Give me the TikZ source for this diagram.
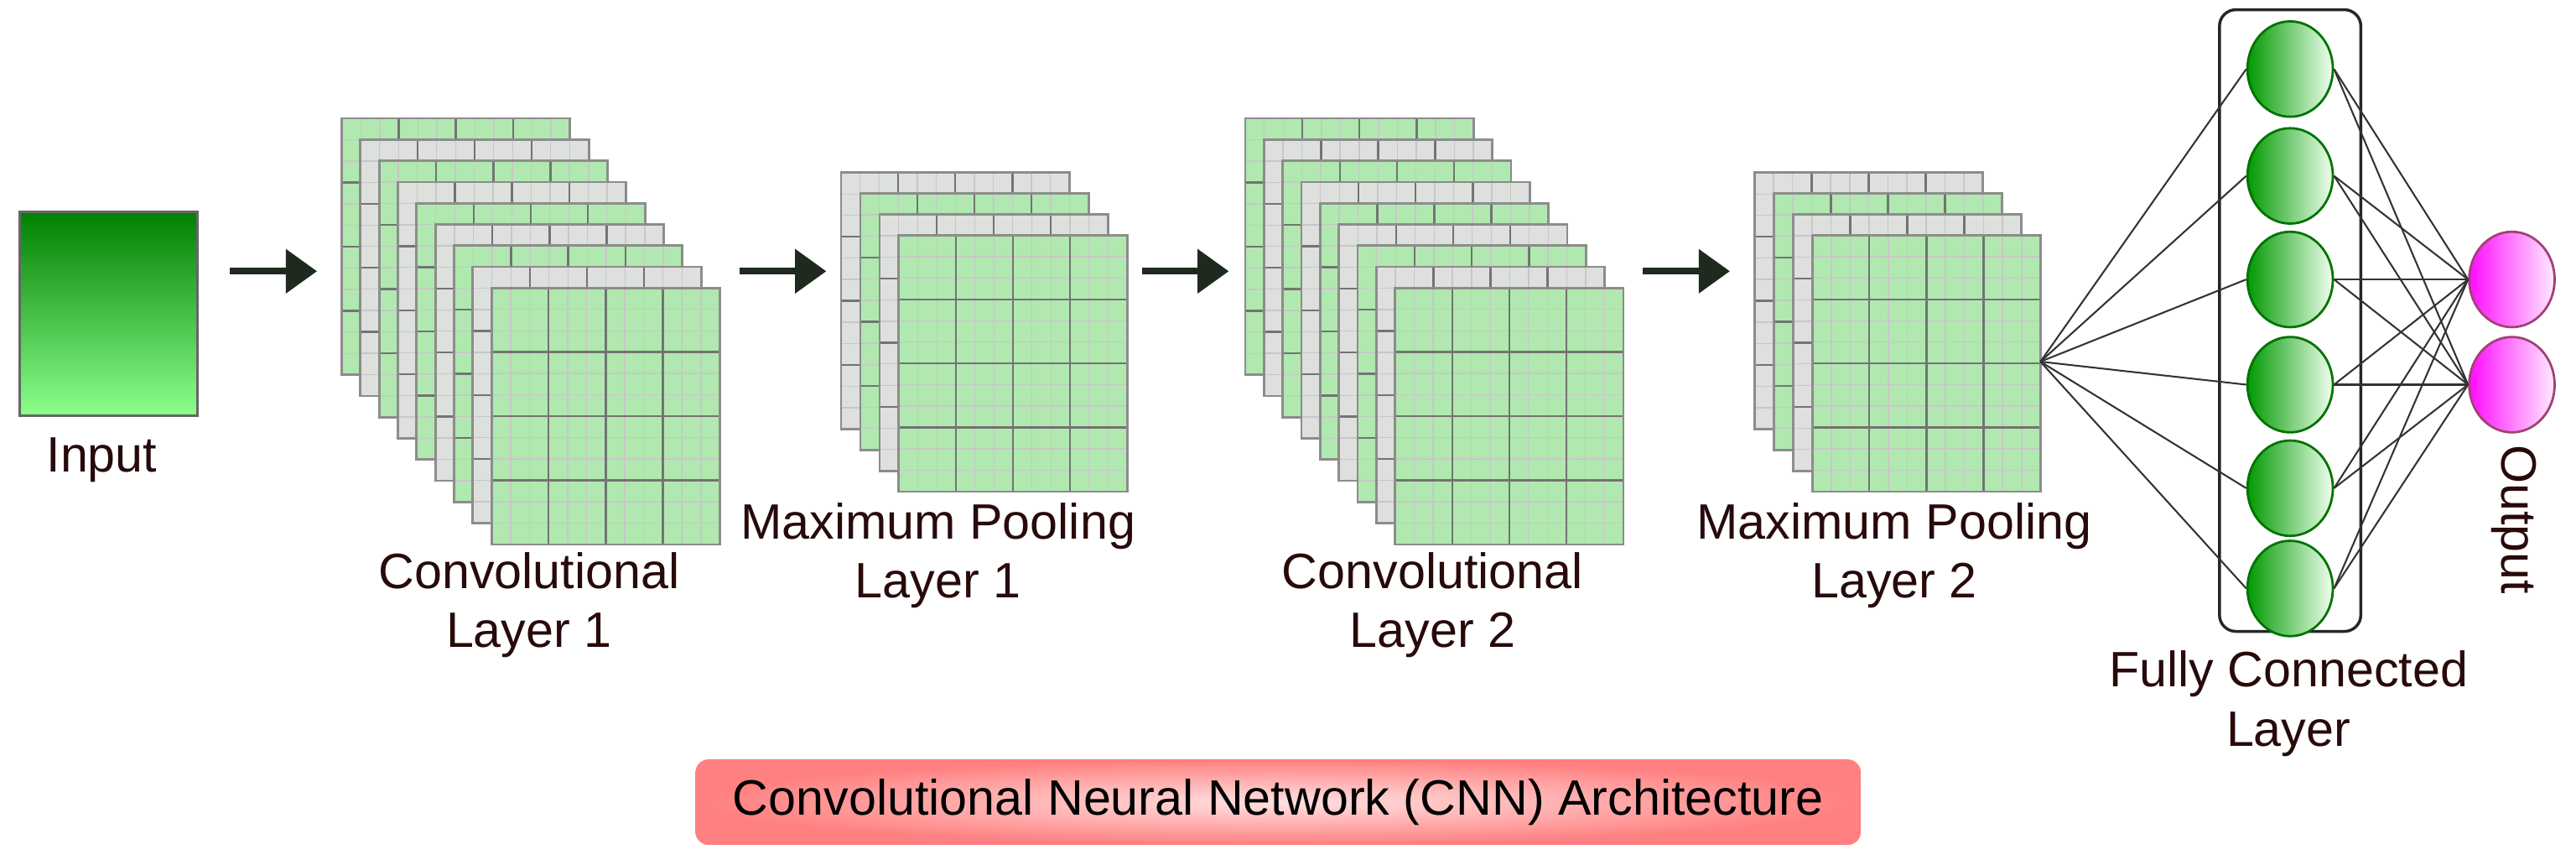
\documentclass[tikz,border=0pt]{standalone}
\usepackage{fontspec}
\setmainfont{Liberation Sans}
\usetikzlibrary{arrows.meta,shapes.geometric}
\definecolor{mapgreen}{RGB}{176,232,176}
\definecolor{mapgrey}{RGB}{221,224,221}
\definecolor{labeltext}{RGB}{40,10,10}
\definecolor{arrowdark}{RGB}{30,42,30}
\tikzset{
  caption/.style={text=labeltext,font=\fontsize{8.6}{10.2}\selectfont,align=center,inner sep=0pt},
  minor/.style={draw=black!22,line width=0.2pt},
  major/.style={draw=black!55,line width=0.35pt},
  stagearrow/.style={draw=arrowdark,line width=1.2pt,-{Triangle[length=0.19cm,width=0.26cm]}},
  neuron/.style={ellipse,minimum width=0.52cm,minimum height=0.58cm,draw=green!45!black,left color=green!60!black,right color=green!6,inner sep=0pt},
  outneuron/.style={ellipse,minimum width=0.52cm,minimum height=0.58cm,draw=magenta!60!black,left color=magenta!95,right color=magenta!8,inner sep=0pt},
  link/.style={draw=black!80,line width=0.3pt}
}
% one feature map: x y colour
\newcommand\fmap[3]{%
  \fill[#3] (#1,#2) rectangle ++(139,156);
  \foreach \i in {1,...,11} {
    \draw[minor] ({#1+\i*139/12},#2) -- ++(0,156);
    \draw[minor] (#1,{#2+\i*13}) -- ++(139,0);
  }
  \foreach \i in {3,6,9} {
    \draw[major] ({#1+\i*139/12},#2) -- ++(0,156);
    \draw[major] (#1,{#2+\i*13}) -- ++(139,0);
  }
  \draw[draw=black!45,line width=0.4pt] (#1,#2) rectangle ++(139,156);
}
\begin{document}
\begin{tikzpicture}[x=0.01cm,y=-0.01cm]
  \useasboundingbox (0,0) rectangle (1568,526);
  % input
  \node[draw=black!60,top color=green!50!black,bottom color=green!45!white,minimum width=1.08cm,minimum height=1.24cm,inner sep=0pt] (in) at (66,191) {};
  \node[caption] (inlab) at (62,280) {Input};
  % convolutional layer 1
  \foreach \k in {0,...,8} {
    \pgfmathtruncatemacro\odd{mod(\k,2)}
    \ifnum\odd=0 \fmap{208+\k*11.4}{72+\k*12.9}{mapgreen}\else\fmap{208+\k*11.4}{72+\k*12.9}{mapgrey}\fi
  }
  \node[caption] (c1lab) at (322,368) {Convolutional\\Layer 1};
  % pooling layer 1
  \foreach \k in {0,...,3} {
    \pgfmathtruncatemacro\odd{mod(\k,2)}
    \ifnum\odd=0 \fmap{512+\k*11.7}{105+\k*12.7}{mapgrey}\else\fmap{512+\k*11.7}{105+\k*12.7}{mapgreen}\fi
  }
  \node[caption] (p1lab) at (571,338) {Maximum Pooling\\Layer 1};
  % convolutional layer 2
  \foreach \k in {0,...,8} {
    \pgfmathtruncatemacro\odd{mod(\k,2)}
    \ifnum\odd=0 \fmap{758+\k*11.4}{72+\k*12.9}{mapgreen}\else\fmap{758+\k*11.4}{72+\k*12.9}{mapgrey}\fi
  }
  \node[caption] (c2lab) at (872,368) {Convolutional\\Layer 2};
  % pooling layer 2
  \foreach \k in {0,...,3} {
    \pgfmathtruncatemacro\odd{mod(\k,2)}
    \ifnum\odd=0 \fmap{1068+\k*11.7}{105+\k*12.7}{mapgrey}\else\fmap{1068+\k*11.7}{105+\k*12.7}{mapgreen}\fi
  }
  \node[caption] (p2lab) at (1153,338) {Maximum Pooling\\Layer 2};
  \coordinate (p2out) at (1242,220);
  % arrows between stages
  \coordinate (a1s) at (140,165); \coordinate (a1e) at (193,165);
  \coordinate (a2s) at (450,165); \coordinate (a2e) at (503,165);
  \coordinate (a3s) at (695,165); \coordinate (a3e) at (748,165);
  \coordinate (a4s) at (1000,165); \coordinate (a4e) at (1053,165);
  \foreach \a in {1,...,4} \draw[stagearrow] (a\a s) -- (a\a e);
  % fully connected layer
  \node[draw=black!85,rounded corners=0.1cm,line width=0.5pt,minimum width=0.86cm,minimum height=3.78cm,inner sep=0pt] (fcbox) at (1394,195) {};
  \foreach \i/\y in {1/42,2/107,3/170,4/234,5/297,6/358}
    \node[neuron] (f\i) at (1394,\y) {};
  \node[caption] (fclab) at (1393,428) {Fully Connected\\Layer};
  % output layer
  \node[outneuron] (o1) at (1529,170) {};
  \node[outneuron] (o2) at (1529,234) {};
  \node[caption,rotate=-90] (outlab) at (1530,316) {Output};
  % connections
  \foreach \i in {1,...,6} {
    \draw[link] (p2out) -- (f\i.west);
    \foreach \j in {1,2} \draw[link] (f\i.east) -- (o\j.west);
  }
  % title banner
  \node[rounded corners=0.08cm,inner color=red!12,outer color=red!50,minimum width=7.09cm,minimum height=0.52cm,inner sep=0pt,font=\fontsize{8.6}{10}\selectfont] (title) at (778,488) {Convolutional Neural Network (CNN) Architecture};
\end{tikzpicture}
\end{document}
